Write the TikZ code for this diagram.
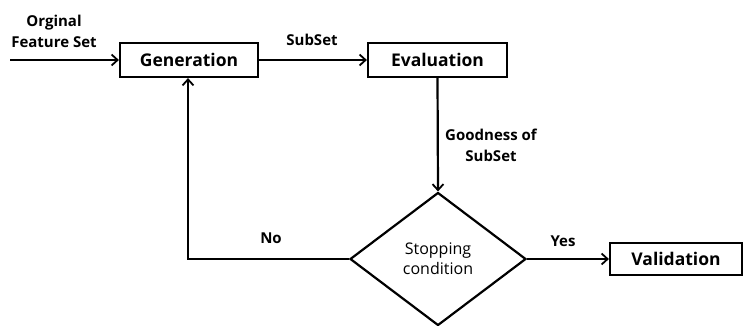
\documentclass[tikz,border=0pt]{standalone}
\usepackage{fontspec}
\setmainfont{Open Sans}
\usetikzlibrary{arrows.meta,shapes.geometric}
\begin{document}
\begin{tikzpicture}[x=1pt,y=-1pt,
  line width=2.2pt,
  arr/.style={-{Straight Barb[length=6pt,width=11pt,line width=1.8pt]}},
  box/.style={draw,rectangle,minimum height=34pt,inner sep=0pt,font=\fontsize{17.5}{19}\selectfont\bfseries},
  dec/.style={draw,diamond,minimum width=176pt,minimum height=133pt,inner sep=0pt,align=center,font=\fontsize{16}{20}\selectfont},
  lbl/.style={align=center,font=\fontsize{15}{21}\selectfont\bfseries,inner sep=0pt}]
\useasboundingbox (0,0) rectangle (743,326);
\node[box,minimum width=138pt] (gen) at (189,60) {Generation};
\node[box,minimum width=139pt] (eva) at (437.5,60) {Evaluation};
\node[dec] (stop) at (438,259) {Stopping\\condition};
\node[box,minimum width=132pt,minimum height=32pt] (val) at (676,259) {Validation};
\coordinate (in) at (10,60);
\coordinate (bend) at (188,259);
\draw[arr] (in) -- (gen.west);
\draw[arr] (gen.east) -- (eva.west);
\draw[arr] (eva.south) -- (stop.north);
\draw[arr] (stop.east) -- (val.west);
\draw[arr] (stop.west) -- (bend) -- (gen.south -| bend);
\node[lbl] (l1) at (54,31) {Orginal\\Feature Set};
\node[lbl] (l2) at (312,40) {SubSet};
\node[lbl] (l3) at (491,145) {Goodness of\\SubSet};
\node[lbl] (l4) at (271,238) {No};
\node[lbl] (l5) at (563,241) {Yes};
\end{tikzpicture}
\end{document}
